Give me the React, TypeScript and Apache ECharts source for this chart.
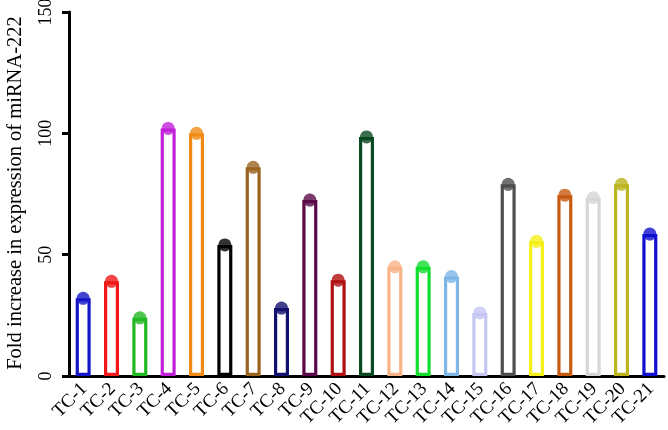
import React, { useEffect, useRef } from "react";
import * as echarts from "echarts";

const categories = ["TC-1","TC-2","TC-3","TC-4","TC-5","TC-6","TC-7","TC-8","TC-9","TC-10","TC-11","TC-12","TC-13","TC-14","TC-15","TC-16","TC-17","TC-18","TC-19","TC-20","TC-21"];
const values = [32, 39, 24, 102, 100, 54, 86, 28, 72.5, 39.5, 98.5, 45, 45, 41, 26, 79, 55.5, 74.5, 73.5, 79, 58.5];
const colors = ["#1515c8","#f01818","#22b822","#c020d8","#f08a14","#000000","#9a6420","#10106e","#5a0a4a","#b01010","#0a4a22","#f8b486","#12de2e","#7eb6e6","#c6c6f2","#4e4e4e","#f4f018","#c85a10","#d6d6d6","#bcb41e","#1010d0"];
const yTicks = [0, 50, 100, 150];
const yAxisTitle = "Fold increase in expression of miRNA-222";

export default function App() {
  const ref = useRef<HTMLDivElement>(null);
  useEffect(() => {
    const chart = echarts.init(ref.current!, null, { renderer: "svg" });
    const font = "'Liberation Serif', 'Times New Roman', serif";
    chart.setOption({
      animation: false,
      grid: { left: 69, right: 4, top: 12, bottom: 54, containLabel: false, outerBoundsMode: "none" },
      graphic: [
        {
          type: "text",
          x: 14,
          y: 193,
          rotation: Math.PI / 2,
          style: {
            text: yAxisTitle,
            fontFamily: font,
            fontSize: 20.5,
            fill: "#000",
            align: "center",
            verticalAlign: "middle",
          },
        },
      ],
      xAxis: {
        type: "category",
        data: categories,
        boundaryGap: true,
        axisLine: { lineStyle: { color: "#000", width: 3 } },
        axisTick: { alignWithLabel: true, length: 7, lineStyle: { color: "#000", width: 3 } },
        axisLabel: { rotate: 45, interval: 0, fontFamily: font, fontSize: 19, color: "#000", margin: 9 },
      },
      yAxis: {
        type: "value",
        min: yTicks[0],
        max: yTicks[yTicks.length - 1],
        interval: 50,
        axisLine: { show: true, lineStyle: { color: "#000", width: 3 } },
        axisTick: { show: true, length: 7, lineStyle: { color: "#000", width: 3 } },
        axisLabel: { rotate: 90, fontFamily: font, fontSize: 18, color: "#000", margin: 15 },
        splitLine: { show: false },
      },
      series: [
        {
          type: "bar",
          barWidth: 15,
          z: 2,
          data: values.map((v, i) => ({
            value: v,
            itemStyle: { color: "#fff", borderColor: colors[i], borderWidth: 3.2 },
          })),
        },
        {
          type: "scatter",
          symbol: "circle",
          symbolSize: 13,
          z: 3,
          data: values.map((v, i) => ({ value: [categories[i], v], itemStyle: { color: colors[i] } })),
        },
      ],
    });
    return () => chart.dispose();
  }, []);
  return <div ref={ref} style={{ position: "fixed", left: 0, top: 0, width: 668, height: 430 }} />;
}
